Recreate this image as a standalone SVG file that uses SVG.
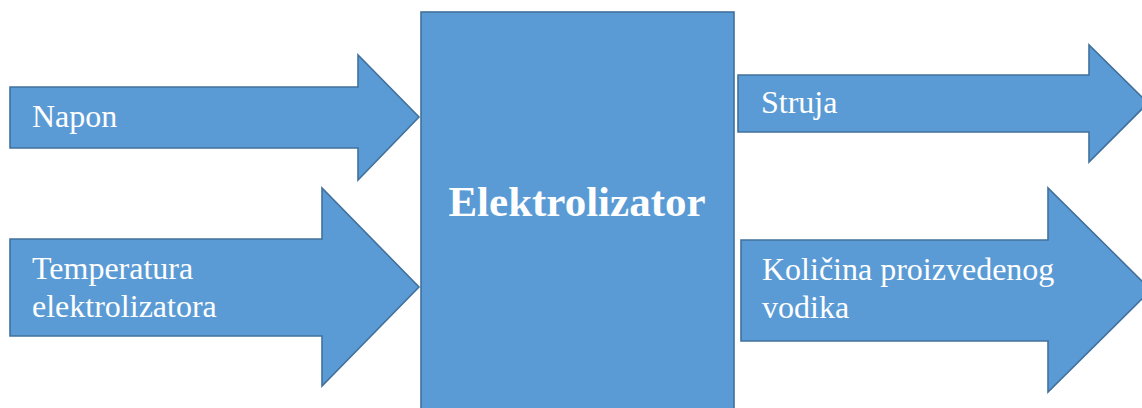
<svg xmlns="http://www.w3.org/2000/svg" width="1142" height="408" viewBox="0 0 1142 408">
<style>
.shape{fill:#5B9BD5;stroke:#41719C;stroke-width:1.6}
.lbl{font-family:"Liberation Serif","Times New Roman",serif;font-size:32px;fill:#ffffff}
.title{font-family:"Liberation Serif","Times New Roman",serif;font-size:43px;font-weight:bold;fill:#ffffff}
</style>
<rect width="1142" height="408" fill="#ffffff"/>
<g id="connectors">
<g id="arrow-napon">
<polygon class="shape" points="10,87 358,87 358,55 419,117 358,180 358,148 10,148"/>
<text class="lbl" x="32" y="127">Napon</text>
</g>
<g id="arrow-temperatura">
<polygon class="shape" points="10,239 322,239 322,188 419,287 322,386 322,336 10,336"/>
<text class="lbl" x="32" y="279">Temperatura</text>
<text class="lbl" x="32" y="317">elektrolizatora</text>
</g>
<g id="arrow-struja">
<polygon class="shape" points="738,75 1089,75 1089,45 1148,103 1089,162 1089,132 738,132"/>
<text class="lbl" x="761" y="113">Struja</text>
</g>
<g id="arrow-kolicina">
<polygon class="shape" points="741,240 1048,240 1048,188 1151,290 1048,392 1048,341 741,341"/>
<text class="lbl" x="762" y="280">Količina proizvedenog</text>
<text class="lbl" x="762" y="318">vodika</text>
</g>
</g>
<g id="elektrolizator">
<rect class="shape" x="421" y="12" width="313" height="410"/>
<text class="title" x="577" y="216" text-anchor="middle">Elektrolizator</text>
</g>
</svg>
